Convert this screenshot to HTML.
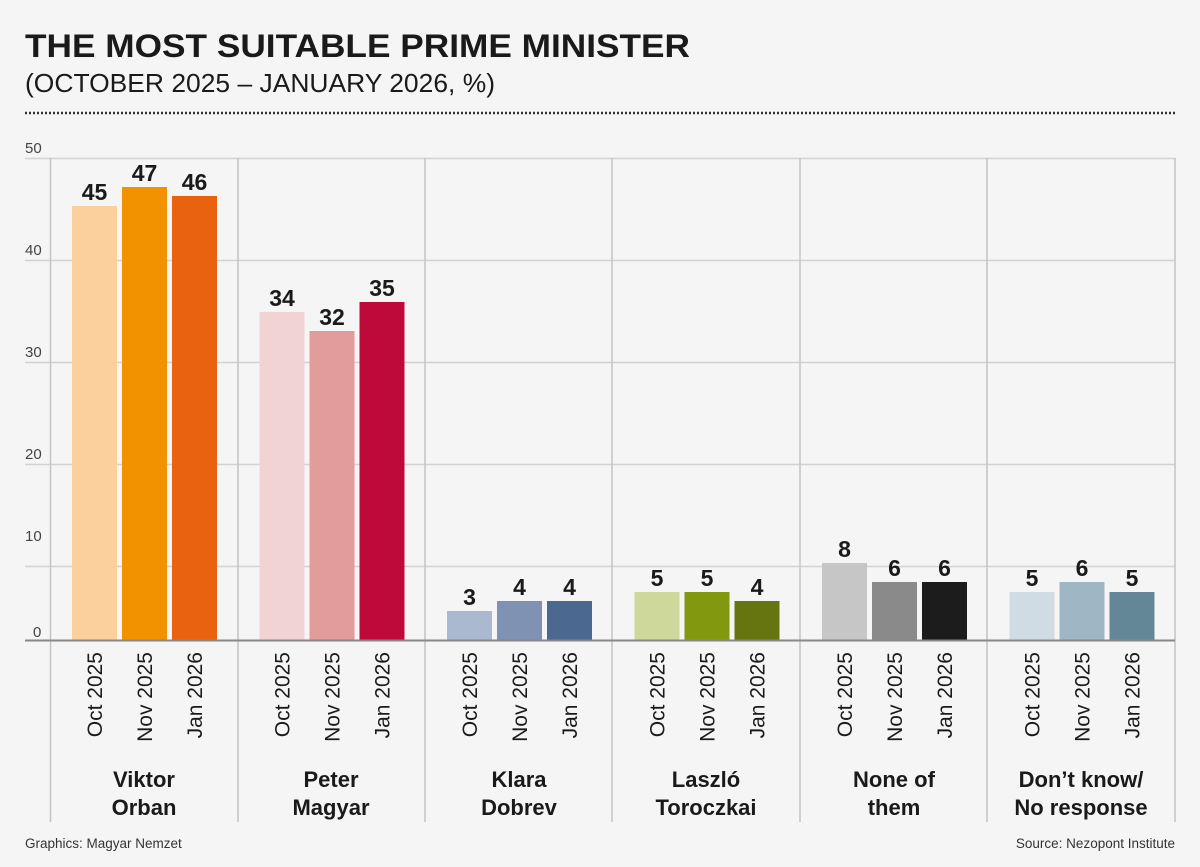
<!DOCTYPE html>
<html><head><meta charset="utf-8"><style>
body{margin:0;background:#f5f5f5;}
svg{display:block;font-family:"Liberation Sans",sans-serif;}
</style></head><body>
<svg width="1200" height="867" viewBox="0 0 1200 867">
<rect width="1200" height="867" fill="#f5f5f5"/>
<text x="25" y="57" font-size="32" font-weight="bold" fill="#1a1a1a" textLength="665" lengthAdjust="spacingAndGlyphs">THE MOST SUITABLE PRIME MINISTER</text>
<text x="25" y="92" font-size="26" fill="#1a1a1a" textLength="470" lengthAdjust="spacingAndGlyphs">(OCTOBER 2025 – JANUARY 2026, %)</text>
<line x1="25" y1="113" x2="1175" y2="113" stroke="#333" stroke-width="2.5" stroke-dasharray="2,2"/>
<g stroke="#d2d2d2" stroke-width="1.5">
<line x1="25" y1="158.5" x2="1175" y2="158.5"/>
<line x1="25" y1="260.5" x2="1175" y2="260.5"/>
<line x1="25" y1="362.5" x2="1175" y2="362.5"/>
<line x1="25" y1="464.5" x2="1175" y2="464.5"/>
<line x1="25" y1="566.5" x2="1175" y2="566.5"/>
</g>
<g stroke="#c4c4c4" stroke-width="1.5">
<line x1="50.5" y1="158" x2="50.5" y2="822"/>
<line x1="238" y1="158" x2="238" y2="822"/>
<line x1="425" y1="158" x2="425" y2="822"/>
<line x1="612" y1="158" x2="612" y2="822"/>
<line x1="800" y1="158" x2="800" y2="822"/>
<line x1="987" y1="158" x2="987" y2="822"/>
<line x1="1175" y1="158" x2="1175" y2="822"/>
</g>
<g font-size="15" fill="#444">
<text x="25" y="153">50</text><text x="25" y="255">40</text><text x="25" y="357">30</text><text x="25" y="459">20</text><text x="25" y="541">10</text><text x="33" y="637">0</text>
</g>
<g>
<rect x="72" y="206" width="45" height="434" fill="#fbd09c"/>
<rect x="122" y="187" width="45" height="453" fill="#f39200"/>
<rect x="172" y="196" width="45" height="444" fill="#e8620f"/>
<rect x="259.5" y="312" width="45" height="328" fill="#f2d3d3"/>
<rect x="309.5" y="331" width="45" height="309" fill="#e29c9b"/>
<rect x="359.5" y="302" width="45" height="338" fill="#be0a3a"/>
<rect x="447" y="611" width="45" height="29" fill="#aab8d0"/>
<rect x="497" y="601" width="45" height="39" fill="#7f92b4"/>
<rect x="547" y="601" width="45" height="39" fill="#4a6890"/>
<rect x="634.5" y="592" width="45" height="48" fill="#cdd89a"/>
<rect x="684.5" y="592" width="45" height="48" fill="#82980f"/>
<rect x="734.5" y="601" width="45" height="39" fill="#667510"/>
<rect x="822" y="563" width="45" height="77" fill="#c6c6c6"/>
<rect x="872" y="582" width="45" height="58" fill="#8a8a8a"/>
<rect x="922" y="582" width="45" height="58" fill="#1c1c1c"/>
<rect x="1009.5" y="592" width="45" height="48" fill="#cfdce3"/>
<rect x="1059.5" y="582" width="45" height="58" fill="#9fb6c4"/>
<rect x="1109.5" y="592" width="45" height="48" fill="#648798"/>
</g>
<g font-size="23" font-weight="bold" fill="#1a1a1a" text-anchor="middle">
<text x="94.5" y="200">45</text><text x="144.5" y="181">47</text><text x="194.5" y="190">46</text>
<text x="282" y="306">34</text><text x="332" y="325">32</text><text x="382" y="296">35</text>
<text x="469.5" y="605">3</text><text x="519.5" y="595">4</text><text x="569.5" y="595">4</text>
<text x="657" y="586">5</text><text x="707" y="586">5</text><text x="757" y="595">4</text>
<text x="844.5" y="557">8</text><text x="894.5" y="576">6</text><text x="944.5" y="576">6</text>
<text x="1032" y="586">5</text><text x="1082" y="576">6</text><text x="1132" y="586">5</text>
</g>
<g font-size="21" fill="#1a1a1a" text-anchor="end">
<text transform="translate(102,652) rotate(-90)">Oct 2025</text><text transform="translate(152,652) rotate(-90)">Nov 2025</text><text transform="translate(202,652) rotate(-90)">Jan 2026</text>
<text transform="translate(289.5,652) rotate(-90)">Oct 2025</text><text transform="translate(339.5,652) rotate(-90)">Nov 2025</text><text transform="translate(389.5,652) rotate(-90)">Jan 2026</text>
<text transform="translate(477,652) rotate(-90)">Oct 2025</text><text transform="translate(527,652) rotate(-90)">Nov 2025</text><text transform="translate(577,652) rotate(-90)">Jan 2026</text>
<text transform="translate(664.5,652) rotate(-90)">Oct 2025</text><text transform="translate(714.5,652) rotate(-90)">Nov 2025</text><text transform="translate(764.5,652) rotate(-90)">Jan 2026</text>
<text transform="translate(852,652) rotate(-90)">Oct 2025</text><text transform="translate(902,652) rotate(-90)">Nov 2025</text><text transform="translate(952,652) rotate(-90)">Jan 2026</text>
<text transform="translate(1039.5,652) rotate(-90)">Oct 2025</text><text transform="translate(1089.5,652) rotate(-90)">Nov 2025</text><text transform="translate(1139.5,652) rotate(-90)">Jan 2026</text>
</g>
<line x1="25" y1="640.5" x2="1175" y2="640.5" stroke="#888" stroke-width="2"/>
<g font-size="22" font-weight="bold" fill="#1a1a1a" text-anchor="middle">
<text x="144" y="787">Viktor</text><text x="144" y="815">Orban</text>
<text x="331" y="787">Peter</text><text x="331" y="815">Magyar</text>
<text x="519" y="787">Klara</text><text x="519" y="815">Dobrev</text>
<text x="706" y="787">Laszló</text><text x="706" y="815">Toroczkai</text>
<text x="894" y="787">None of</text><text x="894" y="815">them</text>
<text x="1081" y="787">Don’t know/</text><text x="1081" y="815">No response</text>
</g>
<text x="25" y="848" font-size="13.5" fill="#333">Graphics: Magyar Nemzet</text>
<text x="1175" y="848" font-size="13.5" fill="#333" text-anchor="end">Source: Nezopont Institute</text>
</svg>
</body></html>
